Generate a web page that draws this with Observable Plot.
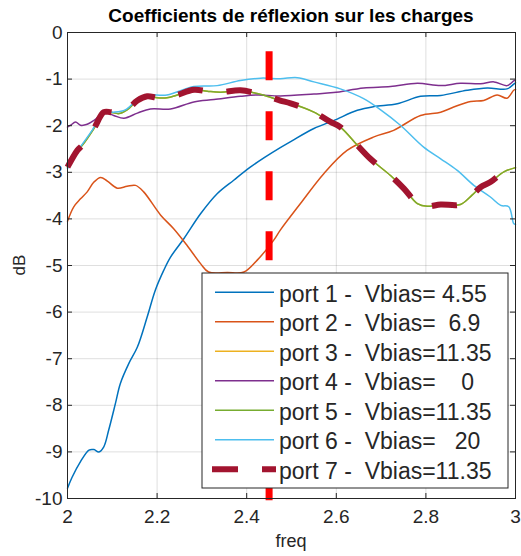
<!DOCTYPE html>
<html><head><meta charset="utf-8">
<script src="https://cdn.jsdelivr.net/npm/d3@7"></script>
<script src="https://cdn.jsdelivr.net/npm/@observablehq/plot@0.6"></script>
<style>body{margin:0;background:#fff;} svg{display:block}</style>
</head><body><div id="chart"></div>
<script>
// ---- data ----
const titleText = "Coefficients de réflexion sur les charges";
const xLabel = "freq";
const yLabel = "dB";
const xTicks = [2, 2.2, 2.4, 2.6, 2.8, 3];
const yTicks = [0, -1, -2, -3, -4, -5, -6, -7, -8, -9, -10];

const freqP1 = [2.0,2.01,2.029,2.048,2.059,2.07,2.081,2.092,2.107,2.118,2.137,2.156,2.178,2.196,2.215,2.23,2.26,2.297,2.334,2.371,2.408,2.44,2.475,2.5,2.55,2.594,2.647,2.684,2.736,2.788,2.833,2.892,2.937,2.981,2.996,3.0];
const dbP1   = [-9.78,-9.55,-9.21,-8.96,-8.95,-9.0,-8.89,-8.53,-7.96,-7.53,-7.10,-6.75,-6.10,-5.53,-5.10,-4.82,-4.42,-3.89,-3.46,-3.17,-2.89,-2.68,-2.47,-2.33,-2.06,-1.89,-1.67,-1.59,-1.53,-1.37,-1.35,-1.24,-1.19,-1.21,-1.11,-1.08];

const freqP2 = [2.0,2.014,2.029,2.044,2.059,2.074,2.089,2.111,2.133,2.152,2.17,2.208,2.237,2.267,2.297,2.315,2.357,2.394,2.423,2.46,2.475,2.52,2.572,2.624,2.684,2.728,2.788,2.833,2.862,2.9,2.929,2.959,2.981,2.996,3.0];
const dbP2   = [-4.05,-3.74,-3.57,-3.42,-3.21,-3.11,-3.19,-3.34,-3.30,-3.28,-3.42,-3.92,-4.21,-4.57,-4.96,-5.14,-5.15,-5.14,-4.89,-4.46,-4.24,-3.67,-3.03,-2.53,-2.24,-2.10,-1.78,-1.71,-1.60,-1.48,-1.46,-1.34,-1.41,-1.24,-1.22];

// Vbias = 11.35 (ports 3, 5 and 7 share this response)
const freqV1135 = [2.0,2.022,2.033,2.059,2.081,2.096,2.115,2.133,2.156,2.178,2.2,2.222,2.245,2.282,2.312,2.342,2.386,2.423,2.453,2.475,2.498,2.55,2.587,2.609,2.647,2.676,2.721,2.751,2.781,2.803,2.833,2.877,2.903,2.922,2.944,2.974,3.0];
const dbV1135   = [-2.89,-2.53,-2.42,-2.06,-1.71,-1.71,-1.74,-1.66,-1.46,-1.37,-1.40,-1.40,-1.34,-1.23,-1.26,-1.28,-1.24,-1.31,-1.39,-1.46,-1.52,-1.71,-1.92,-2.03,-2.42,-2.71,-3.07,-3.35,-3.67,-3.73,-3.69,-3.69,-3.49,-3.32,-3.21,-2.99,-2.90];

const freqP4 = [2.0,2.007,2.018,2.029,2.044,2.06,2.081,2.103,2.126,2.156,2.185,2.23,2.282,2.327,2.386,2.423,2.475,2.55,2.594,2.661,2.721,2.781,2.833,2.877,2.922,2.952,2.981,2.996,3.0];
const dbP4   = [-2.03,-1.99,-1.92,-1.99,-1.97,-1.88,-1.72,-1.78,-1.84,-1.73,-1.64,-1.64,-1.49,-1.44,-1.37,-1.34,-1.36,-1.32,-1.29,-1.19,-1.16,-1.09,-1.14,-1.09,-1.10,-1.06,-1.14,-1.04,-1.02];

const freqP6 = [2.0,2.025,2.055,2.081,2.103,2.129,2.156,2.178,2.222,2.282,2.334,2.386,2.431,2.475,2.513,2.55,2.609,2.661,2.699,2.743,2.795,2.833,2.87,2.907,2.944,2.967,2.985,2.996,3.0];
const dbP6   = [-2.92,-2.51,-2.10,-1.71,-1.71,-1.66,-1.44,-1.34,-1.34,-1.16,-1.14,-1.03,-0.98,-0.99,-0.97,-1.06,-1.21,-1.42,-1.66,-1.99,-2.46,-2.71,-2.96,-3.28,-3.53,-3.71,-3.74,-4.10,-4.12];

const markerFreq = [2.45, 2.45];
const markerDb = [-0.4, -10.08];

const legendLabels = [
  "port 1 -  Vbias= 4.55",
  "port 2 -  Vbias=  6.9",
  "port 3 -  Vbias=11.35",
  "port 4 -  Vbias=    0",
  "port 5 -  Vbias=11.35",
  "port 6 -  Vbias=   20",
  "port 7 -  Vbias=11.35"
];
const portColors = ["#0072BD","#D95319","#EDB120","#7E2F8E","#77AC30","#4DBEEE","#A2142F"];

// ---- build ----
const rows = (f, v) => f.map((d, i) => ({f: d, db: v[i]}));
const seriesData = [
  rows(freqP1, dbP1),
  rows(freqP2, dbP2),
  rows(freqV1135, dbV1135),
  rows(freqP4, dbP4),
  rows(freqV1135, dbV1135),
  rows(freqP6, dbP6),
  rows(freqV1135, dbV1135)
];
const markerData = rows(markerFreq, markerDb);

const W = 521, H = 556, mL = 67, mR = 6, mT = 32, mB = 58;
const innerW = W - mL - mR, innerH = H - mT - mB;
const ink = "#262626";
const font = "'Liberation Sans', Arial, Helvetica, sans-serif";

const lineMarks = seriesData.map((data, i) => {
  const thick = i === 6;
  return Plot.line(data, {
    x: "f", y: "db", stroke: portColors[i], curve: "catmull-rom",
    strokeWidth: thick ? 6 : 1.5,
    strokeDasharray: thick ? "25,24" : null,
    strokeLinecap: thick ? "butt" : "round",
    strokeLinejoin: "round"
  });
});

const plot = Plot.plot({
  width: W, height: H,
  marginLeft: mL, marginRight: mR, marginTop: mT, marginBottom: mB,
  style: {fontFamily: font, fontSize: "19px", color: ink, background: "#fff", overflow: "visible"},
  x: {domain: [2, 3]},
  y: {domain: [-10, 0]},
  marks: [
    Plot.gridX(xTicks, {stroke: ink, strokeOpacity: 0.15, strokeWidth: 1}),
    Plot.gridY(yTicks, {stroke: ink, strokeOpacity: 0.15, strokeWidth: 1}),
    ...lineMarks,
    Plot.line(markerData, {x: "f", y: "db", stroke: "#FF0000", strokeWidth: 7, strokeDasharray: "29,31", strokeLinecap: "butt"}),
    Plot.frame({stroke: ink, strokeWidth: 1}),
    Plot.ruleX(xTicks, {x: d => d, insetTop: innerH - 5, stroke: ink}),
    Plot.ruleX(xTicks, {x: d => d, insetBottom: innerH - 5, stroke: ink}),
    Plot.ruleY(yTicks, {y: d => d, insetRight: innerW - 5, stroke: ink}),
    Plot.ruleY(yTicks, {y: d => d, insetLeft: innerW - 5, stroke: ink}),
    Plot.axisX(xTicks, {tickSize: 0, tickPadding: 11, tickFormat: d => String(d), label: null, fill: ink}),
    Plot.axisY(yTicks, {tickSize: 0, tickPadding: 5, tickFormat: d => String(d), label: null, fill: ink})
  ]
});

const svg = d3.select(plot);
const cx = mL + innerW / 2;
svg.append("text").attr("x", cx).attr("y", 22).attr("text-anchor", "middle")
  .attr("font-family", font).attr("font-size", 19).attr("font-weight", "bold").attr("fill", "#000")
  .text(titleText);
svg.append("text").attr("x", cx).attr("y", 547).attr("text-anchor", "middle")
  .attr("font-family", font).attr("font-size", 18).attr("fill", ink).text(xLabel);
svg.append("text").attr("transform", `translate(25,${mT + innerH / 2}) rotate(-90)`).attr("text-anchor", "middle")
  .attr("font-family", font).attr("font-size", 17).attr("fill", ink).text(yLabel);

// legend
const lg = svg.append("g");
lg.append("rect").attr("x", 202).attr("y", 273).attr("width", 306).attr("height", 215)
  .attr("fill", "#fff").attr("stroke", ink).attr("stroke-width", 1);
legendLabels.forEach((lab, i) => {
  const yb = 301.5 + i * 29.5;
  const yl = yb - 9.2;
  const thick = i === 6;
  lg.append("line").attr("x1", thick ? 212 : 215).attr("x2", thick ? 276 : 274)
    .attr("y1", yl).attr("y2", yl).attr("stroke", portColors[i])
    .attr("stroke-width", thick ? 6 : 1.5)
    .attr("stroke-dasharray", thick ? "26,24" : null);
  lg.append("text").attr("x", 279).attr("y", yb).attr("text-anchor", "start")
    .attr("font-family", font).attr("font-size", 23)
    .attr("fill", ink).style("white-space", "pre").attr("xml:space", "preserve").text(lab);
});

document.getElementById("chart").appendChild(plot);
</script>
</body></html>
